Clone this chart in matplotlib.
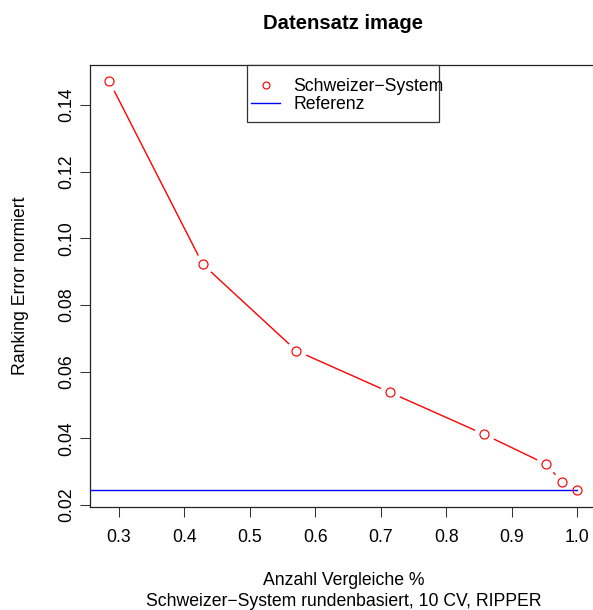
import matplotlib
matplotlib.use("Agg")
import matplotlib.pyplot as plt
from matplotlib.lines import Line2D
from matplotlib.patches import Rectangle

# Anteil der Vergleiche und normierter Ranking Error
anteil = [2/7, 3/7, 4/7, 5/7, 6/7, 20/21, 41/42, 1.0]
fehler = [0.1472, 0.0922, 0.0663, 0.0538, 0.0413, 0.0323, 0.0270, 0.0245]
ref_x = [0.0, 1.0]
ref_y = [0.0245, 0.0245]
x_ticks = [0.3, 0.4, 0.5, 0.6, 0.7, 0.8, 0.9, 1.0]
x_ticklabels = ["0.3", "0.4", "0.5", "0.6", "0.7", "0.8", "0.9", "1.0"]
y_ticks = [0.02, 0.04, 0.06, 0.08, 0.10, 0.12, 0.14]
y_ticklabels = ["0.02", "0.04", "0.06", "0.08", "0.10", "0.12", "0.14"]

plt.rcParams['font.family'] = ['Liberation Sans', 'DejaVu Sans']
fs = 12.7

W, H = 593, 610
fig = plt.figure(figsize=(W / 100, H / 100), dpi=100)
# box in pixels: left 90.5, right 596, top 64.7, bottom 506.5
ax = fig.add_axes([90.5 / W, (H - 506.5) / H, (596 - 90.5) / W, (506.5 - 64.7) / H])

# linie mit luecken um die punkte (wie type="b" in R)
ax.plot(anteil, fehler, color='red', lw=1.0, zorder=2)
ax.plot(anteil, fehler, ls='none', marker='o', ms=14, mfc='white', mec='white', zorder=3)
ax.plot(ref_x, ref_y, color='blue', lw=1.0, zorder=4)
ax.plot(anteil, fehler, ls='none', marker='o', ms=6.5, mfc='none', mec='red', mew=0.85, zorder=5)

# 4% rand wie in R
xr = anteil[-1] - anteil[0]
ax.set_xlim(anteil[0] - 0.04 * xr, anteil[-1] + 0.04 * xr)
yr = max(fehler) - min(fehler + ref_y)
ax.set_ylim(min(fehler + ref_y) - 0.04 * yr, max(fehler) + 0.04 * yr)

ax.set_xticks(x_ticks)
ax.set_xticklabels(x_ticklabels, fontsize=fs)
ax.set_yticks(y_ticks)
ax.set_yticklabels(y_ticklabels, fontsize=fs, rotation=90, va='center')
ax.tick_params(direction='out', length=7.2, width=0.75, color='#333333')
ax.tick_params(axis='x', pad=9)
ax.tick_params(axis='y', pad=3.5)
for s in ax.spines.values():
    s.set_linewidth(0.9)
    s.set_color('#222222')

ax.set_xlabel("Anzahl Vergleiche %\nSchweizer\u2212System rundenbasiert, 10 CV, RIPPER",
              fontsize=fs, labelpad=19, linespacing=1.28)
ax.set_ylabel("Ranking Error normiert", fontsize=fs, labelpad=21)
ax.set_title("Datensatz image", fontsize=14.6, fontweight='bold', pad=26)

# legende: rahmen separat, text ragt wie in R etwas hinaus
ax.add_patch(Rectangle((0.3096, 0.8703), 0.3798, 0.1297, transform=ax.transAxes,
                       fill=True, facecolor='white', edgecolor='#333333', lw=0.9,
                       zorder=6, clip_on=False))
handles = [
    Line2D([], [], ls='none', marker='o', ms=5, mfc='none', mec='red', mew=0.85),
    Line2D([], [], color='blue', lw=1.0),
]
leg = ax.legend(handles, ["Schweizer\u2212System", "Referenz"], loc='upper left',
                bbox_to_anchor=(0.3175, 0.969), fontsize=fs, frameon=False,
                borderaxespad=0, borderpad=0, handlelength=1.65,
                handletextpad=0.75, labelspacing=0.05)
leg.set_zorder(7)

fig.savefig("out.png", dpi=100)
